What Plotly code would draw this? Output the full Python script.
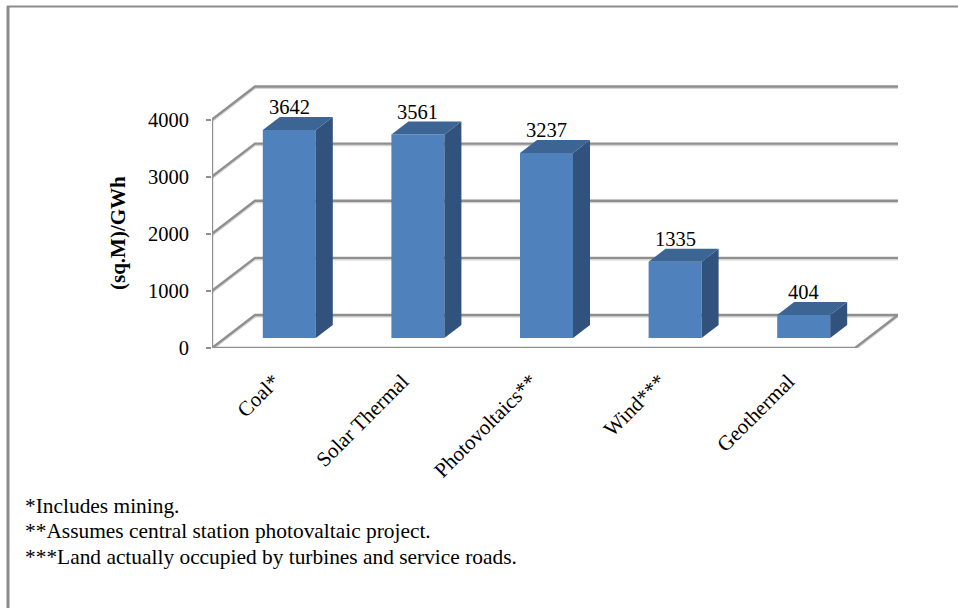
import plotly.graph_objects as go

# Land use by generation technology
categories = ["Coal*", "Solar Thermal", "Photovoltaics**", "Wind***", "Geothermal"]
values = [3642, 3561, 3237, 1335, 404]
y_ticks = [0, 1000, 2000, 3000, 4000]
footnotes = [
    "*Includes mining.",
    "**Assumes central station photovaltaic project.",
    "***Land actually occupied by turbines and service roads.",
]
y_title = "(sq.M)/GWh"

W, H = 958, 608
L, R, T, B = 212, 60, 85, 260
plot_w, plot_h = W - L - R, H - T - B
PX_PER_CAT = 128.6
PX_PER_VAL = 228.5 / 4000
x_min = -0.5
x_max = x_min + plot_w / PX_PER_CAT
y_max = plot_h / PX_PER_VAL

# Oblique projection of the chart box: depth expressed in axis units
wall_dx, wall_dy = 43 / PX_PER_CAT, 33 / PX_PER_VAL
bar_dx, bar_dy = 17 / PX_PER_CAT, 13 / PX_PER_VAL
bar_shift_x, bar_base = 13 / PX_PER_CAT, 10 / PX_PER_VAL
bar_w = 53 / PX_PER_CAT
label_shift = -2.5 / PX_PER_CAT
n = len(categories)
right = n - 0.5


def paper_x(px):
    return (px - L) / plot_w


def paper_y(px):
    return 1 - (px - T) / plot_h


FONT = "Liberation Serif"
GRID = "#8f8f8f"
SHADOW = "#d4d4d4"

fig = go.Figure()

# Back wall, side wall and floor
wall_x, wall_y = [], []
for t in y_ticks:
    wall_x += [x_min, x_min + wall_dx, right + wall_dx, None]
    wall_y += [t, t + wall_dy, t + wall_dy, None]
wall_x += [x_min, right, right + wall_dx, None, x_min, x_min]
wall_y += [0, 0, wall_dy, None, 0, y_ticks[-1]]

shadow_drop = 1.6 / PX_PER_VAL
fig.add_trace(go.Scatter(
    x=wall_x, y=[v - shadow_drop if v is not None else None for v in wall_y],
    mode="lines", line=dict(color=SHADOW, width=2), cliponaxis=False,
    hoverinfo="skip", showlegend=False,
))
fig.add_trace(go.Scatter(
    x=wall_x, y=wall_y, mode="lines", line=dict(color=GRID, width=2.4),
    cliponaxis=False, hoverinfo="skip", showlegend=False,
))

# Front faces sit on an overlaid axis pair so they cover the wall lines
centers = [i + bar_shift_x for i in range(n)]
fig.add_trace(go.Bar(
    x=centers, y=values, base=bar_base, width=bar_w, xaxis="x2", yaxis="y2",
    marker=dict(color="#4f81bd", line=dict(width=0)),
    cliponaxis=False, showlegend=False,
))

# Side and top faces of each column
for c, v in zip(centers, values):
    x0, x1 = c - bar_w / 2, c + bar_w / 2
    top = bar_base + v
    fig.add_trace(go.Scatter(
        x=[x1, x1 + bar_dx, x1 + bar_dx, x1, x1],
        y=[bar_base, bar_base + bar_dy, top + bar_dy, top, bar_base],
        xaxis="x2", yaxis="y2",
        mode="lines", fill="toself", fillcolor="#31527c",
        line=dict(width=0, color="#31527c"), hoverinfo="skip", showlegend=False,
    ))
    fig.add_trace(go.Scatter(
        x=[x0, x1, x1 + bar_dx, x0 + bar_dx, x0],
        y=[top, top, top + bar_dy, top + bar_dy, top],
        xaxis="x2", yaxis="y2",
        mode="lines", fill="toself", fillcolor="#3c6594",
        line=dict(width=0, color="#3c6594"), hoverinfo="skip", showlegend=False,
    ))

annotations = []
for c, v in zip(centers, values):
    annotations.append(dict(
        x=c, y=bar_base + v, text=str(v), showarrow=False, yshift=23,
        xanchor="center", yanchor="middle",
        font=dict(family=FONT, size=20.5, color="#000000"),
    ))

annotations.append(dict(
    xref="paper", x=paper_x(118), y=(348 - 233) / PX_PER_VAL, text=f"<b>{y_title}</b>",
    textangle=-90, showarrow=False, xanchor="center", yanchor="middle",
    font=dict(family=FONT, size=21, color="#000000"),
))

for line, py in zip(footnotes, [506, 531, 557]):
    annotations.append(dict(
        xref="paper", yref="paper", x=paper_x(23), y=paper_y(py), text=line,
        showarrow=False, xanchor="left", yanchor="middle",
        font=dict(family=FONT, size=21.4, color="#000000"),
    ))

# Outer frame along the top and left edges
shapes = [
    dict(type="line", xref="paper", yref="paper", layer="below",
         x0=paper_x(8), x1=paper_x(8), y0=paper_y(6), y1=paper_y(H),
         line=dict(color="#8c8c8c", width=3)),
    dict(type="line", xref="paper", yref="paper", layer="below",
         x0=paper_x(7), x1=paper_x(W), y0=paper_y(6.5), y1=paper_y(6.5),
         line=dict(color="#8c8c8c", width=2)),
]

fig.update_layout(
    width=W, height=H,
    margin=dict(l=L, r=R, t=T, b=B, autoexpand=False),
    paper_bgcolor="#ffffff", plot_bgcolor="rgba(0,0,0,0)",
    showlegend=False, annotations=annotations, shapes=shapes,
    font=dict(family=FONT, color="#000000"),
    xaxis=dict(
        range=[x_min, x_max], tickmode="array",
        tickvals=[i + label_shift for i in range(n)],
        ticktext=categories, tickangle=-45, ticks="", showgrid=False,
        zeroline=False, showline=False,
        tickfont=dict(family=FONT, size=21, color="#000000"),
        ticklabelstandoff=16,
    ),
    yaxis=dict(
        range=[0, y_max], tickmode="array", tickvals=y_ticks,
        ticks="outside", ticklen=5, tickwidth=2.4, tickcolor=GRID,
        showgrid=False, zeroline=False, showline=False,
        tickfont=dict(family=FONT, size=20.5, color="#000000"),
        ticklabelstandoff=13,
    ),
    xaxis2=dict(range=[x_min, x_max], overlaying="x", visible=False),
    yaxis2=dict(range=[0, y_max], overlaying="y", visible=False),
)

fig.write_html("out.html")
